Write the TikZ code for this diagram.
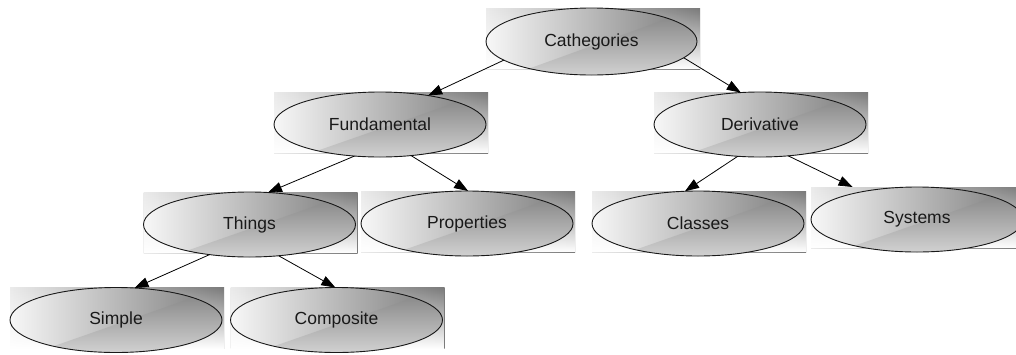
\documentclass[tikz,border=0pt]{standalone}
\usepackage{fontspec}
\setmainfont{Liberation Sans}
\usetikzlibrary{shapes.geometric,arrows.meta,calc,fadings}
\tikzset{
  bgbox/.style={rectangle, inner sep=0pt, outer sep=0pt,
    minimum width=214pt, minimum height=61pt,
    path picture={
      \shade[left color=black!8, right color=black!52]
        (path picture bounding box.south west) rectangle (path picture bounding box.north east);
      \fill[white, path fading=north]
        (path picture bounding box.south west) rectangle (path picture bounding box.north east);
    }},
  topic/.style={ellipse, draw=black!90, line width=0.9pt, inner sep=0pt, outer sep=0pt,
    minimum width=212pt, minimum height=65pt,
    font=\fontsize{17.5}{20}\selectfont, text=black!90,
    path picture={
      \shade[left color=black!3, right color=black!52]
        (path picture bounding box.south west) rectangle (path picture bounding box.north east);
      \shade[top color=black!50, bottom color=black!18]
        ($(path picture bounding box.south west)!0.12!(path picture bounding box.south east)$)
        -- (path picture bounding box.north east)
        -- (path picture bounding box.south east) -- cycle;
    }},
  conn/.style={line width=0.8pt, -{Triangle[length=14pt,width=10pt]}}
}
\begin{document}
\begin{tikzpicture}[x=1pt,y=-1pt]
  \useasboundingbox (0,0) rectangle (1016,354);
  % shaded backdrops
  \node[bgbox] (cat-bg)   at (593,38.5) {};
  \node[bgbox] (fund-bg)  at (381,122.5) {};
  \node[bgbox] (deriv-bg) at (761,122.5) {};
  \node[bgbox] (thing-bg) at (250.5,222.5) {};
  \node[bgbox] (prop-bg)  at (468,221.5) {};
  \node[bgbox] (cls-bg)   at (699,221.5) {};
  \node[bgbox] (sys-bg)   at (918,217.5) {};
  \node[bgbox] (simp-bg)  at (117,318) {};
  \node[bgbox] (comp-bg)  at (337.5,318) {};
  % topics
  \node[topic, minimum width=211pt, minimum height=67pt] (cat) at (591.5,41.5) {Cathegories};
  \node[topic] (fund)  at (380,124.5)   {Fundamental};
  \node[topic] (deriv) at (760,124.5)   {Derivative};
  \node[topic] (thing) at (249.5,224.5) {Things};
  \node[topic] (prop)  at (467,223.5)   {Properties};
  \node[topic] (cls)   at (698,223.5)   {Classes};
  \node[topic] (sys)   at (917,219.5)   {Systems};
  \node[topic] (simp)  at (116,320)     {Simple};
  \node[topic] (comp)  at (336.5,320)   {Composite};
  % hierarchy
  \draw[conn] (cat.192.3)   -- (fund.31.6);
  \draw[conn] (cat.-10.3)   -- (deriv.121.6);
  \draw[conn] (fund.-129.7) -- (thing.60.9);
  \draw[conn] (fund.-45.4)  -- (prop.88.3);
  \draw[conn] (deriv.-125.3) -- (cls.112.7);
  \draw[conn] (deriv.-48.4) -- (sys-bg.155.1);
  \draw[conn] (thing.-143.7) -- (simp.60.5);
  \draw[conn] (thing.-47)   -- (comp.92.6);
\end{tikzpicture}
\end{document}
